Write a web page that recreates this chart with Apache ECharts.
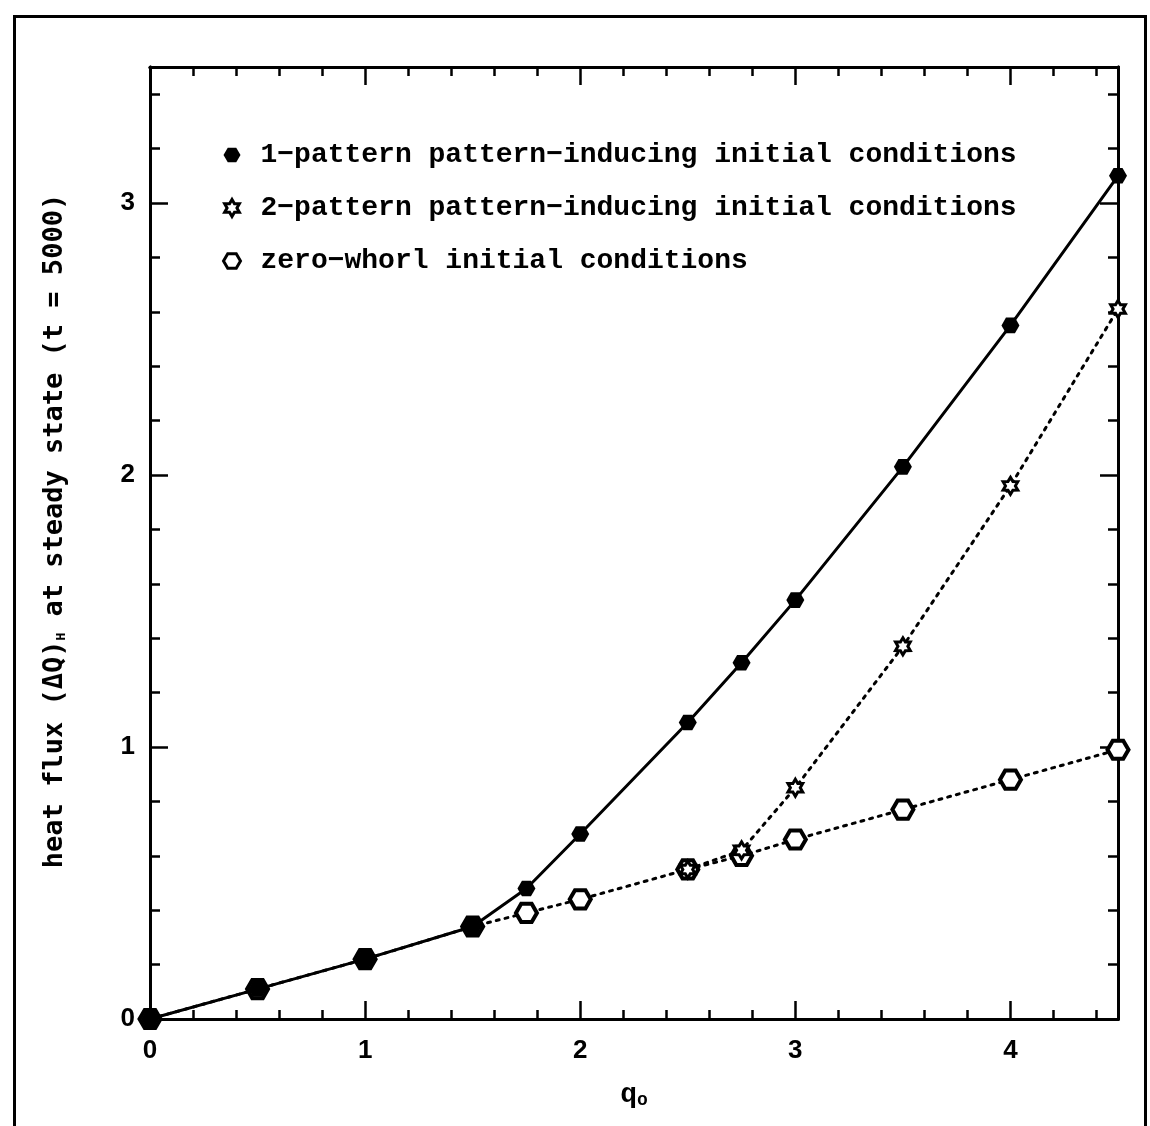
<!DOCTYPE html>
<html><head><meta charset="utf-8">
<script src="https://cdn.jsdelivr.net/npm/echarts@6/dist/echarts.min.js"></script>
<style>html,body{margin:0;padding:0;background:#fff}#c{width:1150px;height:1126px}</style>
</head><body><div id="c"></div>
<script>
// ---- data ----
const onePatternQ = [0, 0.5, 1, 1.5, 1.75, 2, 2.5, 2.75, 3, 3.5, 4, 4.5];
const onePattern  = [0, 0.11, 0.22, 0.34, 0.48, 0.68, 1.09, 1.31, 1.54, 2.03, 2.55, 3.10];
const twoPatternQ = [2.5, 2.75, 3, 3.5, 4, 4.5];
const twoPattern  = [0.55, 0.62, 0.85, 1.37, 1.96, 2.61];
const zeroWhorlQ  = [0, 0.5, 1, 1.5, 1.75, 2, 2.5, 2.75, 3, 3.5, 4, 4.5];
const zeroWhorl   = [0, 0.11, 0.22, 0.34, 0.39, 0.44, 0.55, 0.60, 0.66, 0.77, 0.88, 0.99];
const xTickLabels = ['0', '1', '2', '3', '4'];
const yTickLabels = ['0', '1', '2', '3'];
const seriesNames = [
  '1\u2212pattern pattern\u2212inducing initial conditions',
  '2\u2212pattern pattern\u2212inducing initial conditions',
  'zero\u2212whorl initial conditions'
];

// ---- symbols ----
function polyPath(pts){ return 'path://' + pts.map((p,i)=>(i?'L':'M')+p[0].toFixed(2)+','+p[1].toFixed(2)).join(' ') + ' Z'; }
const hexPts = [];
for (let i=0;i<6;i++){ const a=Math.PI/3*i; hexPts.push([50+50*Math.cos(a), 50+50*Math.sin(a)]); }
const HEX = polyPath(hexPts);
const starPts = [];
for (let i=0;i<12;i++){ const a=-Math.PI/2+Math.PI/6*i; const r=(i%2===0)?50:29; starPts.push([50+r*Math.cos(a), 50+r*Math.sin(a)]); }
const STAR = polyPath(starPts);

const zip = (xs, ys) => xs.map((x,i)=>[x, ys[i]]);
const MONO = 'Liberation Mono';
const SANS = 'Liberation Sans';
const black = '#000';

function xAx(pos, interval, len, labels){
  return {
    type:'value', min:0, max:4.5, interval:interval, position:pos,
    axisLine:{show:true, onZero:false, lineStyle:{color:black, width:3}},
    axisTick:{show:true, inside:true, length:len, lineStyle:{color:black, width:2.5}},
    axisLabel:labels ? {show:true, margin:19, color:black, fontSize:26, fontWeight:'bold', fontFamily:SANS,
      formatter:v => Number.isInteger(v) ? (xTickLabels[v] ?? '') : ''} : {show:false},
    splitLine:{show:false}
  };
}
function yAx(pos, interval, len, labels){
  return {
    type:'value', min:0, max:3.5, interval:interval, position:pos,
    axisLine:{show:true, onZero:false, lineStyle:{color:black, width:3}},
    axisTick:{show:true, inside:true, length:len, lineStyle:{color:black, width:2.5}},
    axisLabel:labels ? {show:true, margin:15, color:black, fontSize:26, fontWeight:'bold', fontFamily:SANS,
      formatter:v => Number.isInteger(v) ? (yTickLabels[v] ?? '') : ''} : {show:false},
    splitLine:{show:false}
  };
}

const xBottom = xAx('bottom', 1, 18, true);
xBottom.name = '{q|q}{s|o}';
xBottom.nameLocation = 'middle';
xBottom.nameGap = 62;
xBottom.nameTextStyle = {color:black,
  rich:{q:{fontSize:28, fontFamily:MONO, fontWeight:'bold', color:black}, s:{fontSize:18, fontFamily:MONO, fontWeight:'bold', color:black, verticalAlign:'bottom', padding:[10,0,0,0]}}};

const yLeft = yAx('left', 1, 18, true);
yLeft.name = '{t|heat flux (\u0394Q)}{s|H}{t| at steady state (t = 5000)}';
yLeft.nameLocation = 'middle';
yLeft.nameRotate = 90;
yLeft.nameGap = 82;
yLeft.nameTextStyle = {color:black, padding:[0,0,0,24],
  rich:{t:{fontSize:27, fontFamily:'DejaVu Sans Mono', fontWeight:'bold', color:black}, s:{fontSize:13, fontFamily:'DejaVu Sans Mono', fontWeight:'bold', color:black, verticalAlign:'bottom', padding:[12,0,0,0]}}};

const option = {
  animation:false,
  backgroundColor:'#fff',
  grid:{left:150, right:32, top:67, bottom:107, containLabel:false},
  xAxis:[xBottom, xAx('bottom',0.2,9,false), xAx('top',1,18,false), xAx('top',0.2,9,false)],
  yAxis:[yLeft, yAx('left',0.2,10,false), yAx('right',1,18,false), yAx('right',0.2,10,false)],
  legend:{
    orient:'vertical', left:217, top:136, itemGap:25, itemWidth:17, itemHeight:17,
    textStyle:{color:black, fontSize:28, fontFamily:MONO, fontWeight:'bold', lineHeight:28, padding:[0,0,0,15]},
    data:[
      {name:seriesNames[0], icon:HEX, itemStyle:{color:black, borderWidth:0}},
      {name:seriesNames[1], icon:STAR, itemStyle:{color:'#fff', borderColor:black, borderWidth:3}},
      {name:seriesNames[2], icon:HEX, itemStyle:{color:'#fff', borderColor:black, borderWidth:3}}
    ]
  },
  graphic:[{type:'rect', left:12, top:14, shape:{x:0, y:0, width:1131, height:1200},
    style:{fill:'none', stroke:black, lineWidth:3}, z:-1, silent:true}],
  series:[
    {name:seriesNames[2], type:'line', data:zip(zeroWhorlQ, zeroWhorl), z:2,
      symbol:HEX, symbolSize:21, symbolKeepAspect:true,
      lineStyle:{color:black, width:3, type:[3,6], cap:'round'},
      itemStyle:{color:'#fff', borderColor:black, borderWidth:4}},
    {name:seriesNames[1], type:'line', data:zip(twoPatternQ, twoPattern), z:3,
      symbol:STAR, symbolSize:17, symbolKeepAspect:true,
      lineStyle:{color:black, width:3, type:[3,6], cap:'round'},
      itemStyle:{color:'#fff', borderColor:black, borderWidth:3}},
    {name:seriesNames[0], type:'line', data:zip(onePatternQ, onePattern), z:4,
      symbol:HEX, symbolSize:18, symbolKeepAspect:true,
      lineStyle:{color:black, width:3},
      itemStyle:{color:black, borderWidth:0}}
  ]
};
const chart = echarts.init(document.getElementById('c'), null, {renderer:'canvas'});
chart.setOption(option);
</script></body></html>
